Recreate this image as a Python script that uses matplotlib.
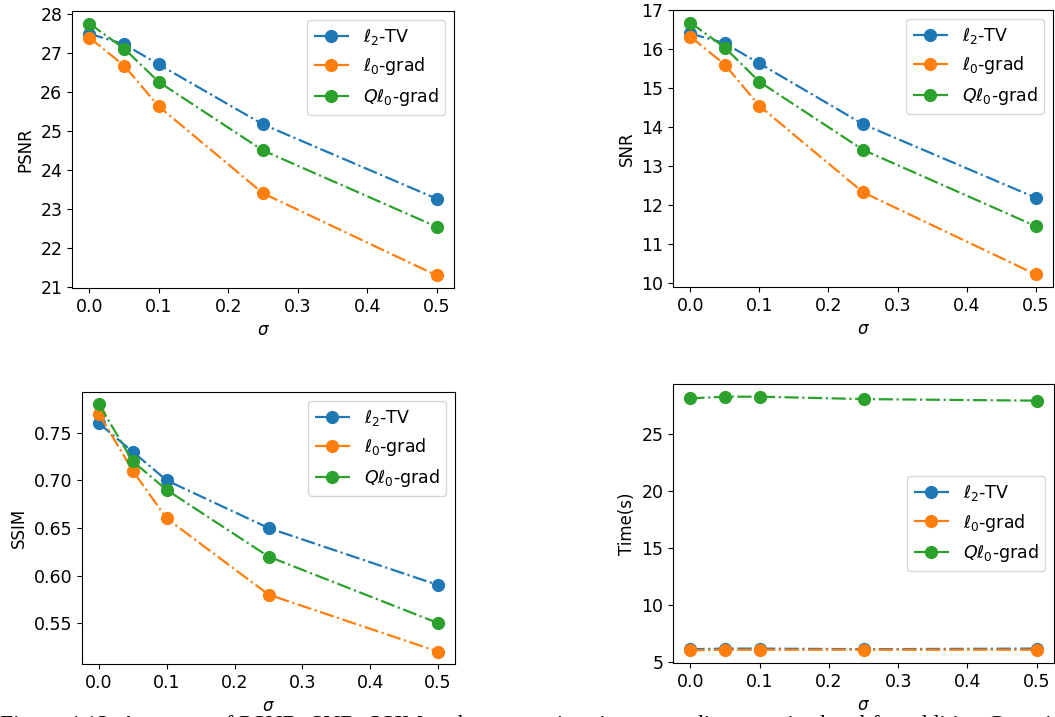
import matplotlib
matplotlib.use("Agg")
import matplotlib.pyplot as plt
from matplotlib.ticker import MultipleLocator

sigma = [0.0, 0.05, 0.1, 0.25, 0.5]
labels = [r'$\ell_2$-TV', r'$\ell_0$-grad', r'$Q\ell_0$-grad']
colors = ['#1f77b4', '#ff7f0e', '#2ca02c']

psnr_l2tv = [27.50, 27.23, 26.71, 25.17, 23.26]
psnr_l0 = [27.40, 26.68, 25.63, 23.40, 21.29]
psnr_ql0 = [27.76, 27.12, 26.26, 24.50, 22.54]

snr_l2tv = [16.40, 16.15, 15.63, 14.07, 12.18]
snr_l0 = [16.32, 15.60, 14.54, 12.32, 10.21]
snr_ql0 = [16.68, 16.04, 15.16, 13.41, 11.45]

ssim_l2tv = [0.76, 0.73, 0.70, 0.65, 0.59]
ssim_l0 = [0.77, 0.71, 0.66, 0.58, 0.52]
ssim_ql0 = [0.78, 0.72, 0.69, 0.62, 0.55]

time_l2tv = [6.15, 6.20, 6.20, 6.15, 6.20]
time_l0 = [6.05, 6.10, 6.10, 6.10, 6.10]
time_ql0 = [28.13, 28.28, 28.28, 28.07, 27.93]

caption = ("Figure 4.13: Averages of PSNR, SNR, SSIM and computation time according to "
           "noise level for additive Gaussian noise")

W, H = 1055, 717
fig = plt.figure(figsize=(W / 100, H / 100), dpi=100)

def ax_at(l, t, r, b):
    return fig.add_axes([l / W, 1 - b / H, (r - l) / W, (b - t) / H])

panels = [
    (ax_at(72, 11, 454, 288), (psnr_l2tv, psnr_l0, psnr_ql0), 'PSNR', 'upper right', 1),
    (ax_at(673, 10, 1053, 287), (snr_l2tv, snr_l0, snr_ql0), 'SNR', 'upper right', 1),
    (ax_at(82, 392, 455, 664), (ssim_l2tv, ssim_l0, ssim_ql0), 'SSIM', 'upper right', 0.05),
    (ax_at(673, 384, 1054, 663), (time_l2tv, time_l0, time_ql0), 'Time(s)', 'center right', 5),
]

for ax, series, ylab, loc, step in panels:
    for vals, lab, c in zip(series, labels, colors):
        ax.plot(sigma, vals, '-.', marker='o', color=c, label=lab,
                markersize=8.5, linewidth=1.6)
    ax.set_ylabel(ylab, fontsize=12)
    ax.set_xlabel(r'$\sigma$', fontsize=12)
    ax.tick_params(labelsize=12.5)
    ax.set_xticks([0.0, 0.1, 0.2, 0.3, 0.4, 0.5])
    ax.yaxis.set_major_locator(MultipleLocator(step))
    ax.legend(loc=loc, fontsize=12.5)

fig.text(0.0, -0.012, caption, fontsize=17, family='Liberation Serif',
         ha='left', va='center')

fig.savefig('out.png', dpi=100)
